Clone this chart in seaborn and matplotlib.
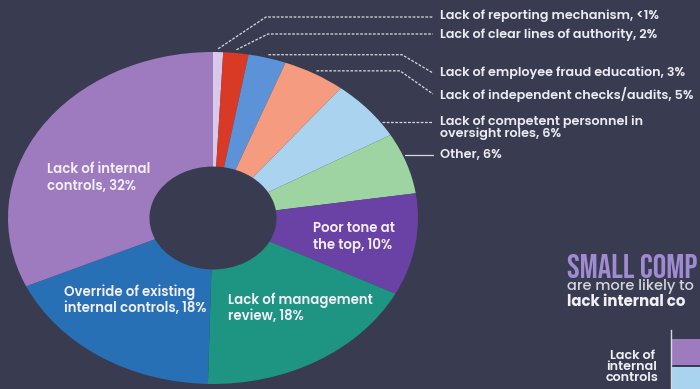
import matplotlib
matplotlib.use("Agg")
import matplotlib.pyplot as plt
from matplotlib.lines import Line2D
import numpy as np
import pandas as pd
import seaborn as sns

# ---- data -------------------------------------------------------------
causes = [
    "Lack of reporting mechanism",
    "Lack of clear lines of authority",
    "Lack of employee fraud education",
    "Lack of independent checks/audits",
    "Lack of competent personnel in\noversight roles",
    "Other",
    "Poor tone at\nthe top",
    "Lack of management\nreview",
    "Override of existing\ninternal controls",
    "Lack of internal\ncontrols",
]
shares = [0.8, 2, 3, 5, 6, 6, 10, 18, 18, 32]
colors = ["#d8c9ea", "#d93a25", "#5c93d8", "#f59b7f", "#a9d3ee",
          "#9dd4a1", "#6a42a6", "#1e9482", "#2870b6", "#9e7bbf"]

bar_category = ["Lack of\ninternal\ncontrols"]
bar_groups = ["Fewer than 100 employees", "100+ employees"]
bar_values = [42, 25]
bar_colors = ["#9e7bbf", "#a9d3ee"]

headline = "SMALL COMP"
subline = "are more likely to"
subline_bold = "lack internal co"

BG = "#393b50"
W, H = 700, 389
FONT = ["Poppins", "DejaVu Sans"]

sns.set_theme(style="white", rc={"axes.facecolor": BG, "figure.facecolor": BG})
plt.rcParams["font.family"] = FONT

fig = plt.figure(figsize=(W / 100, H / 100), dpi=100)


def pix(x, y):
    """Pixel position (origin top-left) -> figure fraction."""
    return x / W, 1 - y / H


def pct(v):
    return "<1%" if v < 1 else f"{v:g}%"


# ---- donut ------------------------------------------------------------
ax = fig.add_axes([8 / W, (H - 384) / H, 410 / W, 332 / H])
ax.pie(shares, colors=colors, startangle=90, counterclock=False, radius=1,
       wedgeprops=dict(width=0.69, linewidth=0))
ax.set_aspect("auto")
ax.set_xlim(-1, 1)
ax.set_ylim(-1, 1)
ax.axis("off")

total = sum(shares)
cum = np.cumsum([0] + shares[:-1])
mid_deg = 90 - 360 * (cum + np.array(shares) / 2) / total

to_fig = fig.transFigure.inverted()


def edge_point(i, r=1.02):
    a = np.deg2rad(mid_deg[i])
    return to_fig.transform(ax.transData.transform((r * np.cos(a), r * np.sin(a))))


def edge_at_y(ypix):
    fy = 1 - ypix / H
    dy = ax.transData.inverted().transform(fig.transFigure.transform((0.5, fy)))[1]
    dx = np.sqrt(max(0.0, 1 - dy ** 2)) * 1.01
    return to_fig.transform(ax.transData.transform((dx, dy)))


label_color = "#ecebf3"
line_color = "#d9d9e2"
label_x = 440
label_y = [16, 35, 73, 95, 128, 155]


def leader(points, dashed=True):
    xs, ys = zip(*points)
    fig.add_artist(Line2D(xs, ys, transform=fig.transFigure, color=line_color,
                          lw=0.9, linestyle=(0, (2.2, 1.2)) if dashed else "-"))


# top two: diagonal up, then across
leader([edge_point(0), pix(266, 17), pix(433, 17)])
leader([edge_point(1), pix(268, 34), pix(433, 34)])
# next two: across, then diagonal down
p = edge_point(2)
leader([p, (402 / W, p[1]), pix(433, 73)])
p = edge_point(3)
leader([p, (400 / W, p[1]), pix(433, 94)])
# last two: straight across
leader([edge_at_y(122), pix(433, 122)])
leader([edge_at_y(155), pix(433, 155)], dashed=False)

for i, y in enumerate(label_y):
    fig.text(*pix(label_x, y), f"{causes[i]}, {pct(shares[i])}",
             ha="left", va="center", fontsize=9.2, fontweight=600,
             color=label_color, linespacing=0.92)

inner_pos = {6: (313, 237), 7: (228, 308), 8: (64, 300), 9: (47, 178)}
for i, (x, y) in inner_pos.items():
    fig.text(*pix(x, y), f"{causes[i]}, {pct(shares[i])}", ha="left",
             va="center", fontsize=9.6, fontweight=600, color="#f3eff8",
             linespacing=1.1)

# ---- side panel -------------------------------------------------------
fig.text(*pix(567, 266), headline, ha="left", va="center",
         fontsize=24.3, color="#a08ad0", family=["Bebas Neue", "DejaVu Sans"])
fig.text(*pix(567, 287), subline, ha="left", va="center",
         fontsize=10.5, fontweight=500, color="#d4d3de")
fig.text(*pix(567, 302), subline_bold, ha="left", va="center",
         fontsize=10.8, fontweight=700, color="#f0eff5")

bax = fig.add_axes([671 / W, (H - 430) / H, 300 / W, 100 / H])
df = pd.DataFrame({"cause": bar_category * len(bar_groups),
                   "size": bar_groups, "share": bar_values})
sns.barplot(data=df, x="share", y="cause", hue="size", palette=bar_colors,
            orient="h", width=0.8, gap=0.07, legend=False, ax=bax,
            linewidth=0, saturation=1)
bax.set_xlim(0, 50)
bax.set_ylim(0.914, -0.514)
bax.set_xlabel("")
bax.set_ylabel("")
bax.set_xticks([])
for side in ["top", "right", "bottom"]:
    bax.spines[side].set_visible(False)
bax.spines["left"].set_color("#d9d9e2")
bax.spines["left"].set_linewidth(1)
bax.tick_params(axis="y", length=0, pad=28)
for t in bax.get_yticklabels():
    t.set_ha("center")
    t.set_multialignment("center")
    t.set_fontsize(9.2)
    t.set_fontweight(600)
    t.set_color("#f0eff5")
    t.set_linespacing(0.92)

fig.savefig("out.png", dpi=100, facecolor=BG)
